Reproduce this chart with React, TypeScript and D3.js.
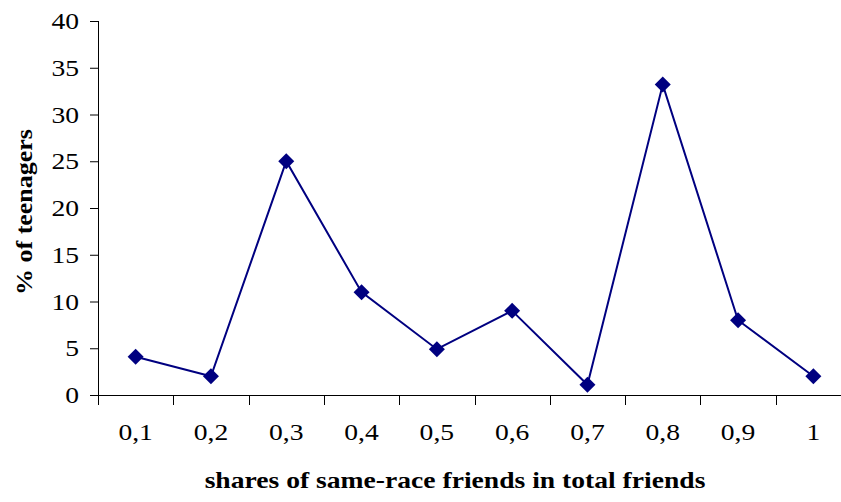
import React from 'react';
import { scaleBand, scaleLinear, line, symbol, symbolSquare } from 'd3';

const categories = ['0,1', '0,2', '0,3', '0,4', '0,5', '0,6', '0,7', '0,8', '0,9', '1'];
const shares = [4.1, 2, 25, 11, 4.9, 9, 1.1, 33.2, 8, 2];
const yTicks = [0, 5, 10, 15, 20, 25, 30, 35, 40];

const width = 841;
const height = 502;
const margin = { left: 98, right: -10, top: 21, bottom: 107 };
const navy = '#000080';
const font = '"Liberation Serif", "Times New Roman", serif';
const stretch = 1.2; // reference text is a bit wide

const App = () => {
    const x = scaleBand<string>()
        .domain(categories)
        .range([margin.left, width - margin.right])
        .padding(0);
    const y = scaleLinear()
        .domain([0, 40])
        .range([height - margin.bottom, margin.top]);

    const cx = (i: number) => (x(categories[i]) as number) + x.bandwidth() / 2;
    const path = line<number>()
        .x((d, i) => cx(i))
        .y(d => y(d))(shares);

    // square turned 45deg -> diamond, ~16px across
    const diamond = symbol().type(symbolSquare).size(128)();
    const y0 = y(0);

    // tick edges: one at every band boundary
    const edges = categories.map(c => x(c) as number).concat([width - margin.right]);

    return (
        <svg width={width} height={height} style={{ position: 'absolute', left: 0, top: 0 }}>
            <rect width={width} height={height} fill="#fff" />

            {/* y axis */}
            <line x1={margin.left + 0.5} x2={margin.left + 0.5} y1={y(40)} y2={y0} stroke="#000" />
            {yTicks.map(t => (
                <g key={t}>
                    <line x1={margin.left - 8} x2={margin.left} y1={y(t) + 0.5} y2={y(t) + 0.5} stroke="#000" />
                    <text transform={`translate(${margin.left - 19},${y(t)}) scale(${stretch},1)`} dy="0.35em"
                        textAnchor="end" fontFamily={font} fontSize={23}>{t}</text>
                </g>
            ))}

            {/* x axis */}
            <line x1={margin.left} x2={width} y1={y0 + 0.5} y2={y0 + 0.5} stroke="#000" />
            {edges.map((e, i) => (
                <line key={i} x1={Math.round(e) + 0.5} x2={Math.round(e) + 0.5} y1={y0} y2={y0 + 10} stroke="#000" />
            ))}
            {categories.map((c, i) => (
                <text key={c} transform={`translate(${cx(i)},440) scale(${stretch},1)`} textAnchor="middle"
                    fontFamily={font} fontSize={23}>{c}</text>
            ))}

            {/* series */}
            <path d={path || ''} fill="none" stroke={navy} strokeWidth={2} />
            {shares.map((v, i) => (
                <path key={i} d={diamond || ''} transform={`translate(${cx(i)},${y(v)}) rotate(45)`} fill={navy} />
            ))}

            {/* titles */}
            <text transform={`translate(455,488) scale(1.15,1)`} textAnchor="middle" fontFamily={font}
                fontSize={24} fontWeight="bold">
                shares of same-race friends in total friends
            </text>
            <text transform="translate(32,212) rotate(-90) scale(1.13,1)" textAnchor="middle" fontFamily={font}
                fontSize={23} fontWeight="bold">% of teenagers</text>
        </svg>
    );
};

export default App;
